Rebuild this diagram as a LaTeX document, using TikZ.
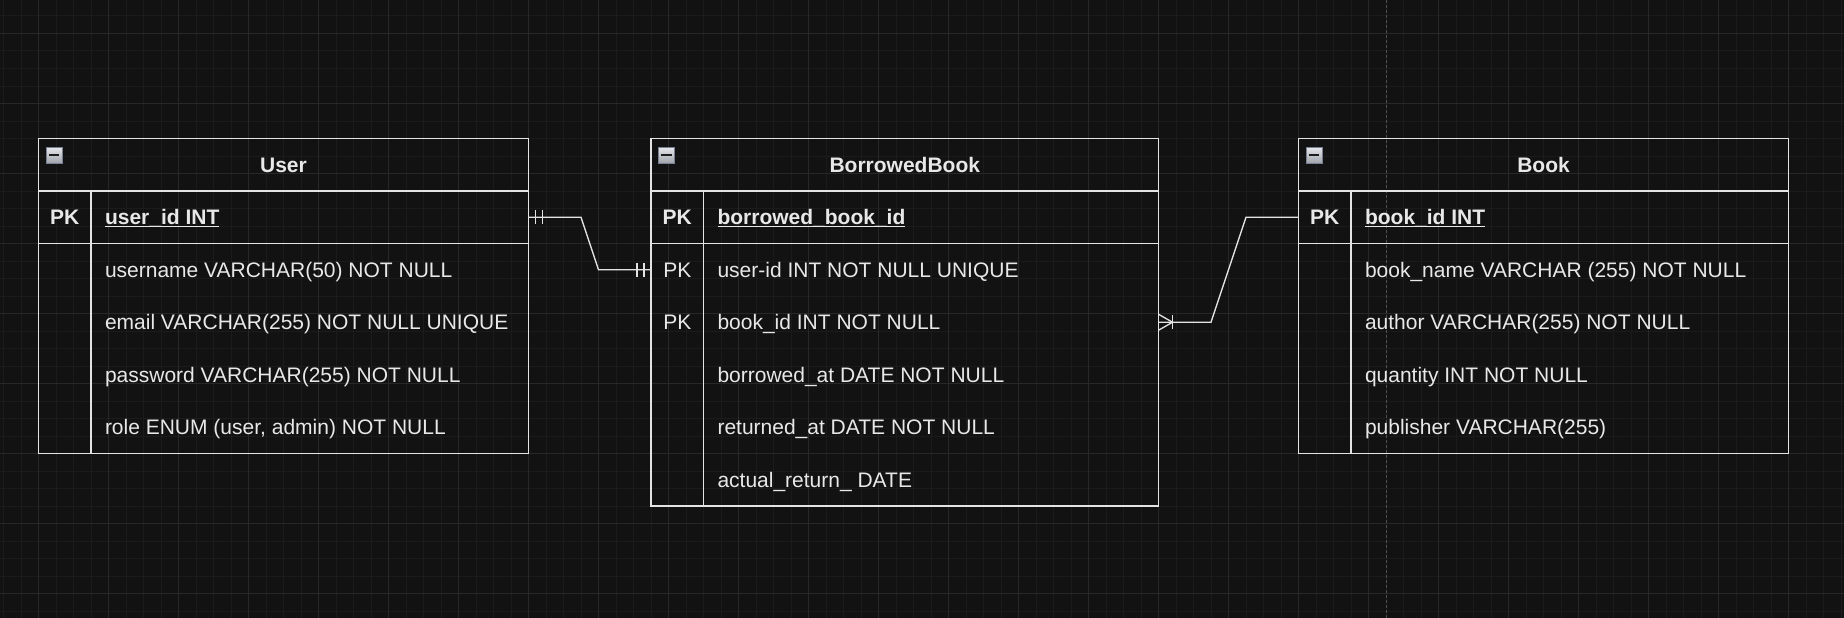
\documentclass[tikz,border=0pt]{standalone}
\usepackage{fontspec}
\setmainfont{Liberation Sans}
\usetikzlibrary{positioning,calc}
\definecolor{erbg}{RGB}{18,18,18}
\definecolor{ergridminor}{RGB}{27,27,27}
\definecolor{ergridmajor}{RGB}{40,40,40}
\definecolor{erpage}{RGB}{80,80,80}
\definecolor{erline}{RGB}{228,228,228}
\definecolor{ertext}{RGB}{232,232,232}
\definecolor{ericontop}{RGB}{232,232,236}
\definecolor{ericonbot}{RGB}{160,164,172}
\definecolor{ericonedge}{RGB}{118,128,146}
\definecolor{ericonbar}{RGB}{30,30,30}
\newcommand{\erkeytext}[1]{\setbox0\hbox{#1}\rlap{\rule[-2.3pt]{\wd0}{1.2pt}}\box0}

\begin{document}
\begin{tikzpicture}[x=1pt,y=-1pt,font=\fontsize{21}{25}\selectfont,
    erframe/.style={draw=erline,line width=1.3pt},
    erlink/.style={draw=erline,line width=1.3pt},
    ertitle/.style={text=ertext,font=\fontsize{21}{25}\selectfont\bfseries,
        minimum height=52.5pt,text height=18pt,text depth=3pt,
        inner sep=0pt,outer sep=0pt,anchor=north west},
    erkey/.style={text=ertext,minimum width=52.5pt,minimum height=52.5pt,
        text height=18pt,text depth=3pt,inner sep=0pt,outer sep=0pt},
    erfield/.style={text=ertext,text height=18pt,text depth=3pt,
        inner sep=0pt,outer sep=0pt},
    ericon/.style={draw=ericonedge,line width=1pt,minimum size=16pt,
        inner sep=0pt,top color=ericontop,bottom color=ericonbot,
        path picture={\fill[ericonbar]
            ([xshift=2.7pt,yshift=-1pt]path picture bounding box.west) rectangle
            ([xshift=-2.7pt,yshift=1pt]path picture bounding box.east);}}]
    \useasboundingbox (0,0) rectangle (1844,618);
    \fill[erbg] (0,0) rectangle (1844,618);
    % grid
    \foreach \gx in {3.5,21,...,1844}
        \draw[ergridminor,line width=1pt] (\gx,0) -- (\gx,618);
    \foreach \gy in {16,33.5,...,618}
        \draw[ergridminor,line width=1pt] (0,\gy) -- (1844,\gy);
    \foreach \gx in {38.5,108.5,...,1844}
        \draw[ergridmajor,line width=1pt] (\gx,0) -- (\gx,618);
    \foreach \gy in {33.5,103.5,...,618}
        \draw[ergridmajor,line width=1pt] (0,\gy) -- (1844,\gy);
    \draw[erpage,line width=1pt,dash pattern=on 3pt off 2pt] (1386.3,0) -- (1386.3,618);

    % User
    \node[ertitle,minimum width=490pt] (user-title) at (38.5,138.5) {User};
    \node[erkey,anchor=north west,font=\fontsize{21}{25}\selectfont\bfseries]
        (user-k1) at (user-title.south west) {PK};
    \foreach \i [remember=\i as \j (initially 1)] in {2,...,5}
        \node[erkey,below=0pt of user-k\j] (user-k\i) {};
    \node[erfield,right=14pt of user-k1,font=\fontsize{21}{25}\selectfont\bfseries]
        (user-f1) {\erkeytext{user\_id INT}};
    \foreach \txt [count=\i from 2] in {username VARCHAR(50) NOT NULL,
        email VARCHAR(255) NOT NULL UNIQUE, password VARCHAR(255) NOT NULL,
        {role ENUM (user, admin) NOT NULL}}
        \node[erfield,right=14pt of user-k\i] (user-f\i) {\txt};

    % BorrowedBook
    \node[ertitle,minimum width=507.5pt] (bb-title) at (651,138.5) {BorrowedBook};
    \node[erkey,anchor=north west,font=\fontsize{21}{25}\selectfont\bfseries]
        (bb-k1) at (bb-title.south west) {PK};
    \foreach \k [count=\i from 2,remember=\i as \j (initially 1)] in {PK,PK,{},{},{}}
        \node[erkey,below=0pt of bb-k\j] (bb-k\i) {\k};
    \node[erfield,right=14pt of bb-k1,font=\fontsize{21}{25}\selectfont\bfseries]
        (bb-f1) {\erkeytext{borrowed\_book\_id}};
    \foreach \txt [count=\i from 2] in {user-id INT NOT NULL UNIQUE,
        book\_id INT NOT NULL, borrowed\_at DATE NOT NULL,
        returned\_at DATE NOT NULL, actual\_return\_ DATE}
        \node[erfield,right=14pt of bb-k\i] (bb-f\i) {\txt};

    % Book
    \node[ertitle,minimum width=490pt] (book-title) at (1298.5,138.5) {Book};
    \node[erkey,anchor=north west,font=\fontsize{21}{25}\selectfont\bfseries]
        (book-k1) at (book-title.south west) {PK};
    \foreach \i [remember=\i as \j (initially 1)] in {2,...,5}
        \node[erkey,below=0pt of book-k\j] (book-k\i) {};
    \node[erfield,right=14pt of book-k1,font=\fontsize{21}{25}\selectfont\bfseries]
        (book-f1) {\erkeytext{book\_id INT}};
    \foreach \txt [count=\i from 2] in {book\_name VARCHAR (255) NOT NULL,
        author VARCHAR(255) NOT NULL, quantity INT NOT NULL, publisher VARCHAR(255)}
        \node[erfield,right=14pt of book-k\i] (book-f\i) {\txt};

    % table frames
    \foreach \t/\n in {user/5,bb/6,book/5}{
        \draw[erframe] (\t-title.north west) rectangle (\t-title.east |- \t-k\n.south);
        \draw[erframe] (\t-title.south west) -- (\t-title.south east);
        \draw[erframe] (\t-k1.south west) -- (\t-title.east |- \t-k1.south);
        \draw[erframe] (\t-k1.north east) -- (\t-k\n.south east);
        \node[ericon] (\t-icon) at ($(\t-title.north west)+(15.5,16.5)$) {};
    }

    % User -- BorrowedBook (one to one)
    \coordinate (ua) at (user-title.east |- user-k1);
    \coordinate (ba) at (bb-title.west |- bb-k2);
    \draw[erlink] (ua) -- ++(52.5,0) -- ++(17.5,52.5) -- (ba);
    \foreach \dx in {7,14}{
        \draw[erlink] ($(ua)+(\dx,-7)$) -- ++(0,14);
        \draw[erlink] ($(ba)+(-\dx,-7)$) -- ++(0,14);
    }

    % Book -- BorrowedBook (one to many)
    \coordinate (kb) at (book-title.west |- book-k1);
    \coordinate (bc) at (bb-title.east |- bb-k3);
    \draw[erlink] (kb) -- ++(-52.5,0) -- ++(-35,105) -- (bc);
    \draw[erlink] ($(bc)+(0,-8)$) -- ($(bc)+(14,0)$) -- ($(bc)+(0,8)$);
    \draw[erlink] ($(bc)+(14,-7)$) -- ++(0,14);
\end{tikzpicture}
\end{document}
